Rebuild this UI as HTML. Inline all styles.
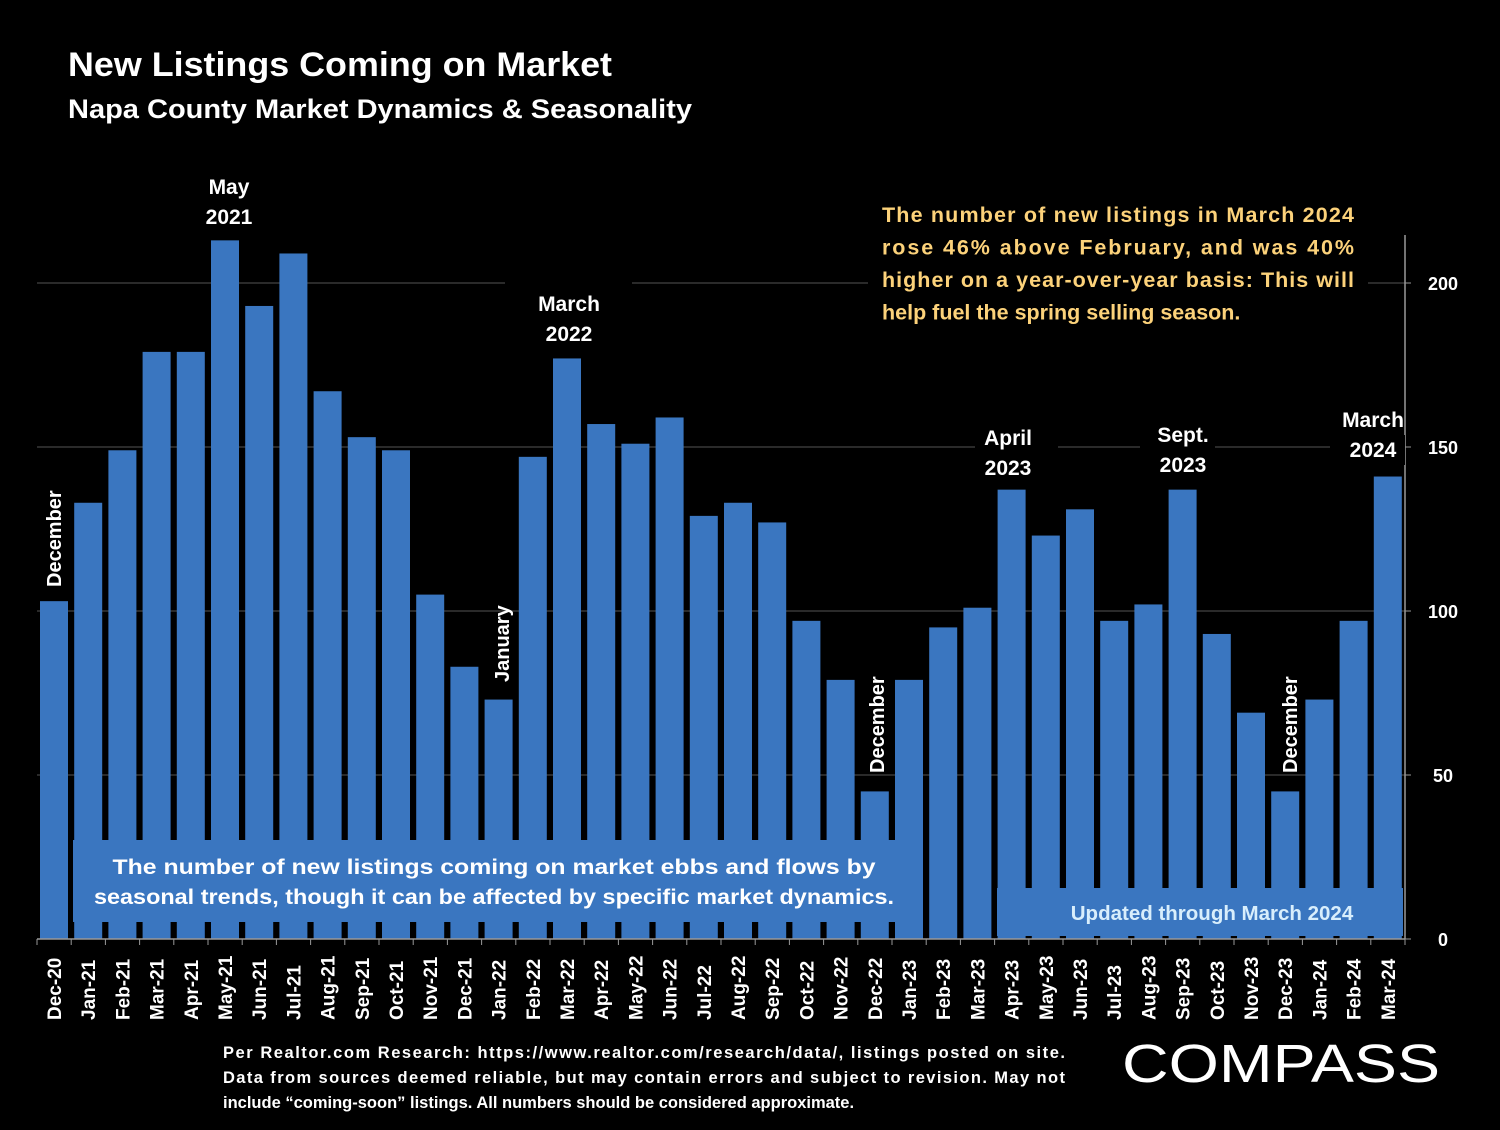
<!DOCTYPE html>
<html><head><meta charset="utf-8"><style>
body{margin:0;background:#000;width:1500px;height:1125px;overflow:hidden;font-family:"Liberation Sans",sans-serif}
svg text{font-family:"Liberation Sans",sans-serif;font-weight:bold}
</style></head><body>
<svg id="chart" width="1500" height="1125" viewBox="0 0 1500 1125">
<rect width="1500" height="1125" fill="#000"/>
<text x="68" y="76" fill="#fff" font-size="34" textLength="544" lengthAdjust="spacingAndGlyphs">New Listings Coming on Market</text>
<text x="68" y="118" fill="#fff" font-size="27" textLength="624" lengthAdjust="spacingAndGlyphs">Napa County Market Dynamics &amp; Seasonality</text>
<g id="grid"></g>
<g id="bars"></g>
<g id="xlabels"></g>
<g id="ylabels"></g>
</svg>
<script>
const categories=["Dec-20","Jan-21","Feb-21","Mar-21","Apr-21","May-21","Jun-21","Jul-21","Aug-21","Sep-21","Oct-21","Nov-21","Dec-21","Jan-22","Feb-22","Mar-22","Apr-22","May-22","Jun-22","Jul-22","Aug-22","Sep-22","Oct-22","Nov-22","Dec-22","Jan-23","Feb-23","Mar-23","Apr-23","May-23","Jun-23","Jul-23","Aug-23","Sep-23","Oct-23","Nov-23","Dec-23","Jan-24","Feb-24","Mar-24"];
const values=[103,133,149,179,179,213,193,209,167,153,149,105,83,73,147,177,157,151,159,129,133,127,97,79,45,79,95,101,137,123,131,97,102,137,93,69,45,73,97,141];
const yTicks=[0,50,100,150,200];
const NS="http://www.w3.org/2000/svg";
const svg=document.getElementById('chart');
const x0=37,step=34.2,bw=28,yBase=939,yScale=3.28;
const xPos=i=>x0+i*step+3;
const yPos=v=>yBase-v*yScale;
function mk(tag,attrs,parent,txt){const e=document.createElementNS(NS,tag);for(const k in attrs)e.setAttribute(k,attrs[k]);if(txt!==undefined)e.textContent=txt;(parent||svg).appendChild(e);return e;}
const grid=document.getElementById('grid'),bars=document.getElementById('bars'),xl=document.getElementById('xlabels'),yl=document.getElementById('ylabels');
yTicks.forEach(t=>{
  if(t>0){const g=mk('line',{x1:37,x2:1405,y1:yPos(t),y2:yPos(t),stroke:'#555','stroke-width':1},grid);
  
  }
  const tx=mk('text',{x:1443,y:yPos(t)+7,fill:'#fff','font-size':18,'text-anchor':'middle'},yl,t);
  
  
});
values.forEach((v,i)=>{
  const r=mk('rect',{x:xPos(i),y:yPos(v),width:bw,height:v*yScale,fill:'#3a76c0'},bars);
  
  
  const cx=xPos(i)+bw/2;
  const t=mk('text',{transform:`translate(${cx+7},1020) rotate(-90)`,fill:'#fff','font-size':19},xl,categories[i]);
  
  
});
const ax=mk('line',{x1:37,x2:1405,y1:yBase,y2:yBase,stroke:'#999','stroke-width':1.5});


for(let i=0;i<=categories.length;i++){const tk=mk('line',{x1:x0+i*step,x2:x0+i*step,y1:yBase,y2:yBase+6,stroke:'#999'});

}
const ay=mk('line',{x1:1405,x2:1405,y1:235,y2:yBase,stroke:'#999','stroke-width':1.5});


for(const t of yTicks){const tk=mk('line',{x1:1405,x2:1411,y1:yPos(t),y2:yPos(t),stroke:'#999'});

}
function note(lines,x,y,anchor,name,fs,lens){const g=mk('g',{});
lines.forEach((l,k)=>{const t=mk('text',{x:x,y:y+k*30,fill:'#fff','font-size':fs||21,'text-anchor':anchor||'middle'},g,l);
if(lens){t.setAttribute('textLength',lens[k]);t.setAttribute('lengthAdjust','spacingAndGlyphs');}});}
mk('rect',{x:505,y:270,width:127,height:20,fill:'#000'});
mk('rect',{x:975,y:425,width:83,height:30,fill:'#000'});
mk('rect',{x:1140,y:425,width:75,height:30,fill:'#000'});
mk('rect',{x:1330,y:435,width:75,height:30,fill:'#000'});
mk('rect',{x:868,y:195,width:500,height:140,fill:'#000'});
note(["May","2021"],229,194,'middle','label-may-2021');
note(["March","2022"],569,311,'middle','label-march-2022');
note(["April","2023"],1008,445,'middle','label-april-2023');
note(["Sept.","2023"],1183,442,'middle','label-sept-2023');
note(["March","2024"],1373,427,'middle','label-march-2024');
function vlabel(txt,cx,yb,name){const t=mk('text',{transform:`translate(${cx},${yb}) rotate(-90)`,fill:'#fff','font-size':20},svg,txt);
}
vlabel("December",61,587,'label-december-2020');
vlabel("January",509,682,'label-january-2022');
vlabel("December",884,773,'label-december-2022');
vlabel("December",1297,773,'label-december-2023');
const yb=mk('g',{});
["The number of new listings in March 2024","rose  46%  above  February,  and  was  40%","higher on a year-over-year basis:  This will","help fuel the spring selling season."].forEach((l,k)=>{
 const t=mk('text',{x:882,y:222+k*32.5,fill:'#fcd27a','font-size':21.5},yb,l);
 if(k<3){t.setAttribute('textLength','472');t.setAttribute('lengthAdjust','spacing');}});
const b1=mk('rect',{x:73,y:840,width:849,height:82,fill:'#3a76c0'});

note(["The number of new listings coming on market ebbs and flows by","seasonal trends, though it can be affected by specific market dynamics."],494,874,'middle','seasonal-note',21.5,[763,800]);
const b2=mk('rect',{x:997,y:888,width:406,height:48,fill:'#3a76c0'});

const u=mk('text',{x:1212,y:920,fill:'#d8eefc','font-size':20.5,'text-anchor':'middle'},svg,"Updated through March 2024");

const src=mk('g',{});
["Per  Realtor.com  Research:   https://www.realtor.com/research/data/,  listings  posted  on  site.","Data from sources deemed reliable, but may contain errors and subject to revision. May not","include “coming-soon” listings. All numbers should be considered approximate."].forEach((l,k)=>{
 const t=mk('text',{x:223,y:1058+k*25,fill:'#fff','font-size':16.5},src,l);
 if(k<2){t.setAttribute('textLength','842');t.setAttribute('lengthAdjust','spacing');}});
const logo=mk('text',{x:1122,y:1082,fill:'#fff','font-size':54,textLength:318,lengthAdjust:'spacingAndGlyphs'},svg,"COMPASS");

logo.style.fontWeight='normal';
</script>
</body></html>
